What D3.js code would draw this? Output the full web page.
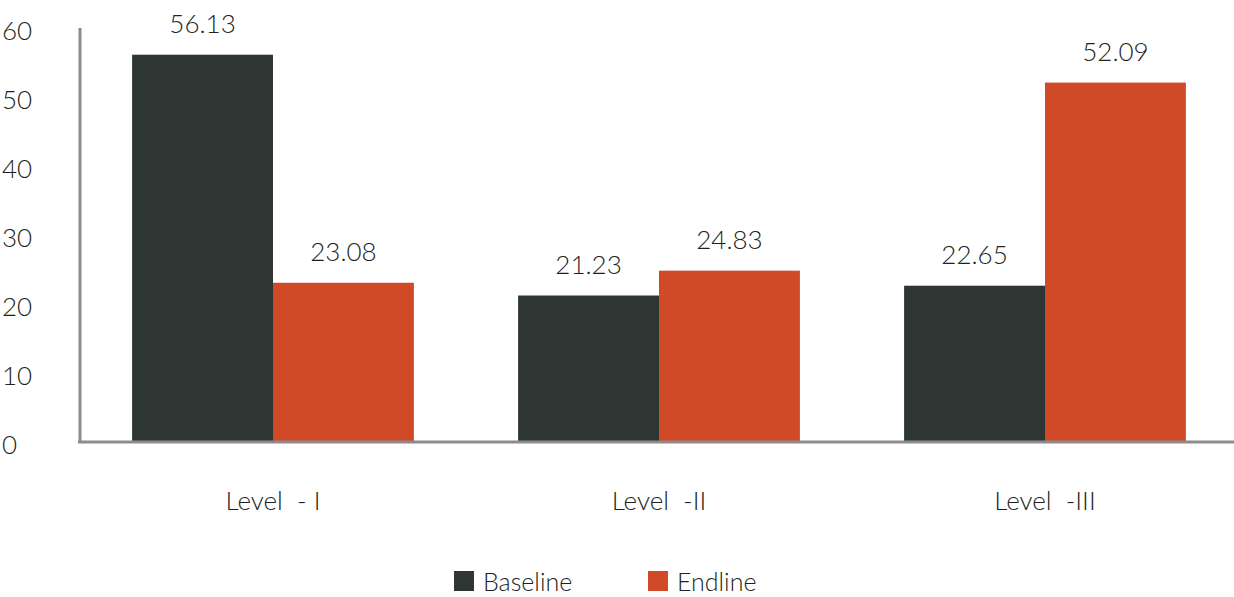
<!DOCTYPE html>
<html>
<head>
<meta charset="utf-8">
<style>
  body { margin: 0; background: #fff; }
  text { font-family: Lato, "Open Sans", sans-serif; font-weight: 300; fill: #231f20; }
</style>
</head>
<body>
<svg id="chart" width="1234" height="597"></svg>
<script src="https://cdn.jsdelivr.net/npm/d3@7"></script>
<script>
var categories = ["Level  - I", "Level  -II", "Level  -III"]
var series = ["Baseline", "Endline"]
var baseline = [56.13, 21.23, 22.65]
var endline = [23.08, 24.83, 52.09]
var yTicks = [0, 10, 20, 30, 40, 50, 60]
var colors = ["#2d3633", "#d04a27"]

var svg = d3.select("#chart")
var margin = {left: 80, right: -4, top: 28, bottom: 155}
var width = 1234 - margin.left - margin.right,
    height = 597 - margin.top - margin.bottom

var g = svg.append("g").attr("transform", "translate(" + margin.left + "," + margin.top + ")")

var x0 = d3.scaleBand().domain(categories).range([0, width]).paddingInner(0.27).paddingOuter(0.135)
var x1 = d3.scaleBand().domain(series).range([0, x0.bandwidth()])
var y = d3.scaleLinear().domain([0, 60]).range([height, 0])

var rows = categories.map(function(c, i) {
    return {cat: c, vals: [baseline[i], endline[i]]}
})

// y tick labels
g.append("g")
    .call(d3.axisLeft(y).tickValues(yTicks).tickSize(0).tickPadding(40))
    .call(function(a) { a.select(".domain").remove() })
    .selectAll("text")
    .style("font-size", "26px")
    .attr("dy", "0.45em")
    .attr("text-anchor", "start")
    .attr("x", -78)

var grp = g.selectAll(".grp").data(rows).enter().append("g")
    .attr("class", "grp")
    .attr("transform", function(d) { return "translate(" + x0(d.cat) + ",0)" })

grp.selectAll("rect").data(function(d) { return d.vals }).enter().append("rect")
    .attr("x", function(d, i) { return x1(series[i]) })
    .attr("width", x1.bandwidth())
    .attr("y", function(d) { return y(d) })
    .attr("height", function(d) { return height - y(d) })
    .attr("fill", function(d, i) { return colors[i] })

grp.selectAll(".val").data(function(d) { return d.vals }).enter().append("text")
    .attr("class", "val")
    .attr("x", function(d, i) { return x1(series[i]) + x1.bandwidth() / 2 })
    .attr("y", function(d) { return y(d) - 22 })
    .attr("text-anchor", "middle")
    .style("font-size", "26px")
    .text(function(d) { return d.toFixed(2) })

// axes lines
g.append("line").attr("x1", 0).attr("x2", 0).attr("y1", 0).attr("y2", height)
    .attr("stroke", "#8c8c8c").attr("stroke-width", 3)
g.append("line").attr("x1", -2).attr("x2", width).attr("y1", height).attr("y2", height)
    .attr("stroke", "#8c8c8c").attr("stroke-width", 3)

// category labels
g.selectAll(".cat").data(categories).enter().append("text")
    .attr("class", "cat")
    .attr("x", function(d) { return x0(d) + x0.bandwidth() / 2 })
    .attr("y", height + 68)
    .attr("text-anchor", "middle")
    .style("font-size", "26px")
    .style("white-space", "pre")
    .text(function(d) { return d })

// legend
var legX = [454, 648]
var leg = svg.selectAll(".leg").data(series).enter().append("g")
    .attr("class", "leg")
    .attr("transform", function(d, i) { return "translate(" + legX[i] + ",571)" })
leg.append("rect").attr("width", 20).attr("height", 20).attr("fill", function(d, i) { return colors[i] })
leg.append("text").attr("x", 29).attr("y", 20).style("font-size", "25px").text(function(d) { return d })
</script>
</body>
</html>
